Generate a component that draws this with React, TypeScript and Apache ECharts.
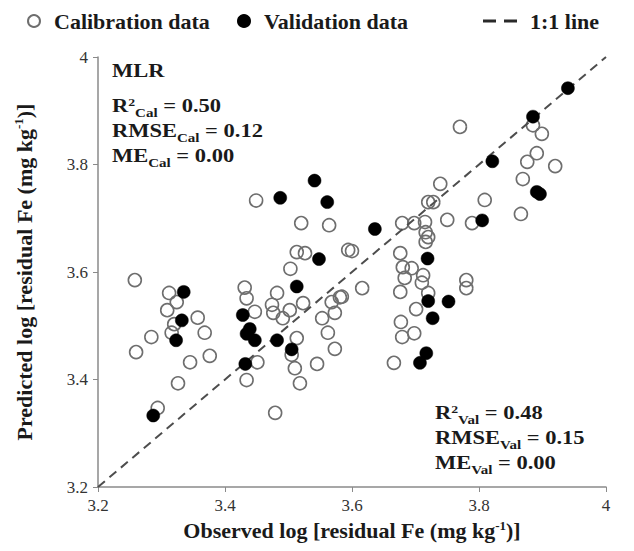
import React, { useEffect, useRef } from "react";
import * as echarts from "echarts";

// Observed (x) vs predicted (y) log residual Fe
const calibrationData: [number, number][] = [
  [3.449, 3.733], [3.52, 3.691], [3.564, 3.687], [3.594, 3.641], [3.513, 3.637],
  [3.526, 3.635], [3.503, 3.606], [3.77, 3.87], [3.885, 3.873], [3.899, 3.857],
  [3.891, 3.821], [3.876, 3.805], [3.92, 3.797], [3.869, 3.773], [3.739, 3.764],
  [3.809, 3.734], [3.72, 3.73], [3.728, 3.73], [3.866, 3.708], [3.75, 3.697],
  [3.789, 3.691], [3.679, 3.691], [3.698, 3.691], [3.715, 3.693], [3.716, 3.674],
  [3.716, 3.656], [3.72, 3.665], [3.6, 3.639], [3.676, 3.635], [3.68, 3.609],
  [3.694, 3.607], [3.683, 3.589], [3.712, 3.594], [3.71, 3.58], [3.72, 3.561],
  [3.78, 3.585], [3.78, 3.57], [3.701, 3.531], [3.677, 3.507], [3.679, 3.479],
  [3.698, 3.486], [3.666, 3.431], [3.616, 3.57], [3.584, 3.554], [3.676, 3.563],
  [3.258, 3.585], [3.312, 3.561], [3.324, 3.544], [3.309, 3.529], [3.32, 3.503],
  [3.316, 3.487], [3.357, 3.515], [3.368, 3.487], [3.284, 3.479], [3.26, 3.451],
  [3.345, 3.432], [3.376, 3.444], [3.326, 3.393], [3.294, 3.347], [3.431, 3.571],
  [3.434, 3.551], [3.447, 3.526], [3.451, 3.432], [3.434, 3.399], [3.479, 3.338],
  [3.474, 3.539], [3.482, 3.561], [3.476, 3.524], [3.491, 3.514], [3.502, 3.529],
  [3.513, 3.477], [3.505, 3.446], [3.51, 3.421], [3.518, 3.393], [3.523, 3.542],
  [3.553, 3.514], [3.562, 3.487], [3.573, 3.457], [3.545, 3.429], [3.568, 3.544],
  [3.581, 3.553], [3.573, 3.524],
];

const validationData: [number, number][] = [
  [3.94, 3.942], [3.885, 3.889], [3.821, 3.806], [3.891, 3.749], [3.896, 3.745],
  [3.805, 3.696], [3.636, 3.68], [3.541, 3.77], [3.487, 3.738], [3.561, 3.73],
  [3.548, 3.624], [3.719, 3.625], [3.513, 3.573], [3.335, 3.563], [3.332, 3.51],
  [3.323, 3.473], [3.287, 3.333], [3.428, 3.52], [3.439, 3.494], [3.434, 3.485],
  [3.447, 3.473], [3.432, 3.429], [3.482, 3.473], [3.505, 3.456], [3.72, 3.546],
  [3.752, 3.545], [3.727, 3.514], [3.717, 3.449], [3.707, 3.431],
];

const oneToOneLine: [number, number][] = [[3.2, 3.2], [4, 4]];

const axisMin = 3.2;
const axisMax = 4;
const axisInterval = 0.2;

const seriesNames = ["Calibration data", "Validation data", "1:1 line"];

const calStats = ["0.50", "0.12", "0.00"]; // R2, RMSE, ME
const valStats = ["0.48", "0.15", "0.00"];

const FONT = "'Liberation Serif', 'Times New Roman', serif";
const INK = "#1a1a1a";

export default function App() {
  const ref = useRef<HTMLDivElement>(null);

  useEffect(() => {
    if (!ref.current) return;
    const chart = echarts.init(ref.current, undefined, { renderer: "svg" });

    const rich = {
      b: { fontFamily: FONT, fontSize: 18, fontWeight: "bold", fill: INK, verticalAlign: "top", lineHeight: 22 },
      sup: { fontFamily: FONT, fontSize: 11, fontWeight: "bold", fill: INK, verticalAlign: "top" },
      sub: { fontFamily: FONT, fontSize: 12, fontWeight: "bold", fill: INK, verticalAlign: "bottom" },
    };

    const statText = (x: number, y: number, text: string) => ({
      type: "text",
      x,
      y,
      scaleX: 1.25,
      scaleY: 1,
      silent: true,
      style: {
        text,
        rich,
        fontFamily: FONT,
        fontSize: 18,
        fontWeight: "bold",
        fill: INK,
        align: "left",
        verticalAlign: "top",
      },
    });

    const legendBase = {
      top: 5,
      itemWidth: 30,
      itemHeight: 12,
      itemGap: 0,
      textStyle: { fontFamily: FONT, fontSize: 22, fontWeight: "bold", color: INK },
    };

    const nameStyle = {
      fontFamily: FONT,
      fontSize: 22,
      fontWeight: "bold",
      color: INK,
      lineHeight: 24,
      rich: { sup: { fontFamily: FONT, fontSize: 13, fontWeight: "bold", color: INK, verticalAlign: "top" } },
    };

    chart.setOption({
      animation: false,
      backgroundColor: "#ffffff",
      legend: [
        { ...legendBase, left: 22, data: [seriesNames[0]] },
        { ...legendBase, left: 232, data: [seriesNames[1]] },
        {
          ...legendBase,
          left: 478,
          itemWidth: 50,
          itemHeight: 3,
          data: [{ name: seriesNames[2], icon: "path://M0,0H13V3H0Z M21,0H34V3H21Z" }],
        },
      ],
      grid: { left: 98, right: 28, top: 57, bottom: 64 },
      xAxis: {
        type: "value",
        min: axisMin,
        max: axisMax,
        interval: axisInterval,
        splitLine: { show: false },
        axisLine: { lineStyle: { color: "#8a8a8a", width: 1.5 } },
        axisTick: { length: 5, lineStyle: { color: "#8a8a8a" } },
        axisLabel: { fontFamily: FONT, fontSize: 17, color: "#333", margin: 10 },
        name: "Observed log [residual Fe (mg kg{sup|-1})]",
        nameLocation: "middle",
        nameGap: 31,
        nameTextStyle: nameStyle,
      },
      yAxis: {
        type: "value",
        min: axisMin,
        max: axisMax,
        interval: axisInterval,
        splitLine: { show: false },
        axisLine: { show: true, lineStyle: { color: "#8a8a8a", width: 1.5 } },
        axisTick: { show: true, length: 5, lineStyle: { color: "#8a8a8a" } },
        axisLabel: { fontFamily: FONT, fontSize: 17, color: "#333", margin: 10 },
        name: "Predicted log [residual Fe (mg kg{sup|-1})]",
        nameLocation: "middle",
        nameGap: 62,
        nameTextStyle: nameStyle,
      },
      series: [
        {
          name: seriesNames[0],
          type: "scatter",
          data: calibrationData,
          symbol: "circle",
          symbolSize: 13,
          itemStyle: { color: "rgba(255,255,255,0)", borderColor: "#6e6e6e", borderWidth: 1.6, opacity: 1 },
          z: 2,
        },
        {
          name: seriesNames[2],
          type: "line",
          data: oneToOneLine,
          symbol: "none",
          lineStyle: { color: "#4d4d4d", width: 2, type: [9, 6] },
          itemStyle: { color: "#2a2a2a" },
          z: 3,
        },
        {
          name: seriesNames[1],
          type: "scatter",
          data: validationData,
          symbol: "circle",
          symbolSize: 13,
          itemStyle: { color: "#000", borderColor: "#000", borderWidth: 0.5, opacity: 1 },
          z: 4,
        },
      ],
      graphic: [
        statText(112, 62, "{b|MLR}"),
        statText(112, 97, `{b|R}{sup|2}{sub|Cal}{b| = ${calStats[0]}}`),
        statText(112, 122, `{b|RMSE}{sub|Cal}{b| = ${calStats[1]}}`),
        statText(112, 147, `{b|ME}{sub|Cal}{b| = ${calStats[2]}}`),
        statText(435, 404, `{b|R}{sup|2}{sub|Val}{b| = ${valStats[0]}}`),
        statText(435, 429, `{b|RMSE}{sub|Val}{b| = ${valStats[1]}}`),
        statText(435, 454, `{b|ME}{sub|Val}{b| = ${valStats[2]}}`),
      ],
    });

    return () => chart.dispose();
  }, []);

  return <div ref={ref} style={{ width: 634, height: 551, position: "absolute", left: 0, top: 0 }} />;
}
